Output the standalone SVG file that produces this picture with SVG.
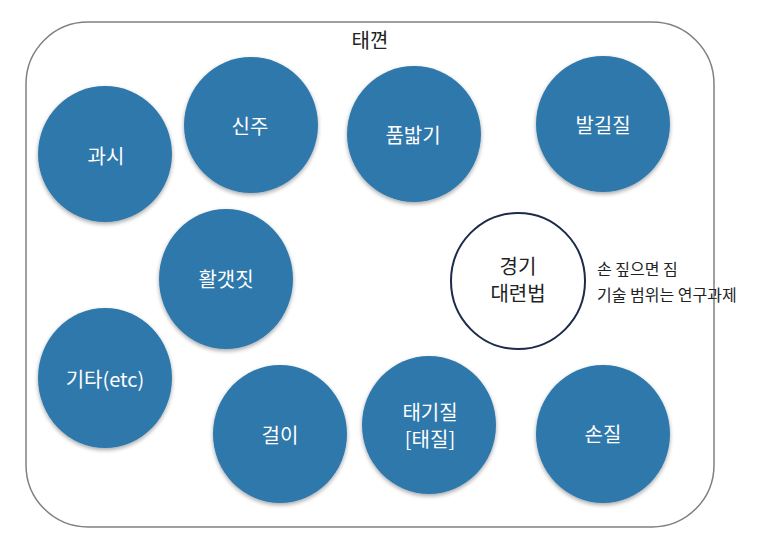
<svg xmlns="http://www.w3.org/2000/svg" width="760" height="545" viewBox="0 0 760 545">
<defs>
<filter id="sh" x="-20%" y="-20%" width="140%" height="140%">
<feGaussianBlur in="SourceAlpha" stdDeviation="2"/>
<feOffset dx="0" dy="2" result="b"/>
<feComponentTransfer><feFuncA type="linear" slope="0.35"/></feComponentTransfer>
<feMerge><feMergeNode/><feMergeNode in="SourceGraphic"/></feMerge>
</filter>
</defs>
<style>
.n{fill:#2E78AB;filter:url(#sh)}
.w{fill:#ffffff;stroke:#1C2B4A;stroke-width:2}
.t{font-family:"Noto Sans CJK KR","Noto Sans",sans-serif;font-size:20px;fill:#ffffff;text-anchor:middle;dominant-baseline:central}
.d{font-family:"Noto Sans CJK KR","Noto Sans",sans-serif;font-size:20px;fill:#222222;text-anchor:middle;dominant-baseline:central}
.s{font-family:"Noto Sans CJK KR","Noto Sans",sans-serif;font-size:16px;fill:#222222}
</style>
<rect width="760" height="545" fill="#ffffff"/>
<g id="frame">
<rect x="26" y="22" width="688" height="505" rx="62" ry="62" fill="none" stroke="#808080" stroke-width="1.5"/>
<text class="d" x="370" y="39">태껸</text>
</g>
<g id="connectors"></g>
<g id="n-gwasi"><ellipse class="n" cx="105" cy="154" rx="67" ry="68"/><text class="t" x="106" y="155">과시</text></g>
<g id="n-sinju"><ellipse class="n" cx="251" cy="125" rx="67" ry="68"/><text class="t" x="250" y="125">신주</text></g>
<g id="n-pumbalgi"><ellipse class="n" cx="414" cy="134" rx="67" ry="68"/><text class="t" x="413" y="134">품밟기</text></g>
<g id="n-balgiljil"><ellipse class="n" cx="603" cy="124" rx="67" ry="68"/><text class="t" x="603" y="124">발길질</text></g>
<g id="n-hwalgaetjit"><ellipse class="n" cx="226" cy="279" rx="67" ry="70"/><text class="t" x="226" y="278">활갯짓</text></g>
<g id="n-gyeonggi"><ellipse class="w" cx="518" cy="281" rx="67" ry="68"/><text class="d" x="518" y="265">경기</text><text class="d" x="518" y="292">대련법</text></g>
<g id="note"><text class="s" x="597" y="275">손 짚으면 짐</text><text class="s" x="597" y="301">기술 범위는 연구과제</text></g>
<g id="n-gita"><ellipse class="n" cx="105" cy="378" rx="67" ry="70"/><text class="t" x="105" y="378">기타(etc)</text></g>
<g id="n-geori"><ellipse class="n" cx="280" cy="434" rx="67" ry="69"/><text class="t" x="280" y="434">걸이</text></g>
<g id="n-taegijil"><ellipse class="n" cx="429" cy="425" rx="67" ry="69"/><text class="t" x="430" y="411">태기질</text><text class="t" x="430" y="438">[태질]</text></g>
<g id="n-sonjil"><ellipse class="n" cx="603" cy="434" rx="67" ry="69"/><text class="t" x="603" y="433">손질</text></g>
</svg>
